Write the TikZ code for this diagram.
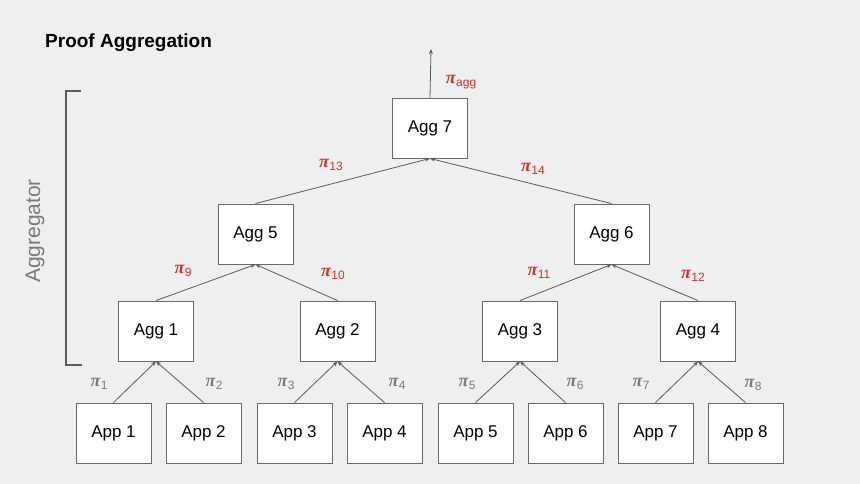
\documentclass[tikz,border=0pt]{standalone}
\usepackage{fontspec}
\setmainfont{Liberation Sans}
\newfontfamily\pifont{Liberation Serif}
\usetikzlibrary{arrows.meta}
\definecolor{bgc}{HTML}{EFEFEF}
\definecolor{edgec}{HTML}{5A5A5A}
\definecolor{boxc}{HTML}{6A6A6A}
\definecolor{redc}{HTML}{D0312D}
\definecolor{greyc}{HTML}{7A7A7A}
\newcommand{\pilab}[1]{{\pifont\bfseries\itshape\fontsize{18}{20}\selectfont π}\kern0.5pt\raisebox{-0.5ex}{\fontsize{12}{14}\selectfont #1}}
\tikzset{
  box/.style={draw=boxc, fill=white, line width=0.9pt, minimum width=75pt, minimum height=60pt, inner sep=0pt, font=\fontsize{17}{20}\selectfont},
  link/.style={draw=edgec, line width=0.8pt, -{Stealth[length=5pt,width=4pt]}},
  redlab/.style={text=redc, inner sep=0pt},
  greylab/.style={text=greyc, inner sep=0pt}
}
\begin{document}
\begin{tikzpicture}[x=1pt,y=-1pt]
\fill[bgc] (0,0) rectangle (860,484);
\useasboundingbox (0,0) rectangle (860,484);
\node[anchor=west, font=\bfseries\fontsize{19}{22}\selectfont, inner sep=0pt] (title) at (45,43) {Proof Aggregation};
% bracket
\draw[edgec, line width=2.4pt] (81,91) -- (66,91) -- (66,365) -- (82,365);
\node[rotate=90, text=greyc, font=\fontsize{21}{24}\selectfont, inner sep=0pt] (aggr) at (35,231) {Aggregator};
% apps
\node[box] (app1) at (113.5,433) {App 1};
\node[box] (app2) at (203.5,433) {App 2};
\node[box] (app3) at (294.5,433) {App 3};
\node[box] (app4) at (384.5,433) {App 4};
\node[box] (app5) at (475.5,433) {App 5};
\node[box] (app6) at (565.5,433) {App 6};
\node[box] (app7) at (655.5,433) {App 7};
\node[box] (app8) at (745.5,433) {App 8};
% aggs
\node[box] (agg1) at (156,331) {Agg 1};
\node[box] (agg2) at (337.5,331) {Agg 2};
\node[box] (agg3) at (520,331) {Agg 3};
\node[box] (agg4) at (698,331) {Agg 4};
\node[box] (agg5) at (255.5,234) {Agg 5};
\node[box] (agg6) at (611.5,234) {Agg 6};
\node[box] (agg7) at (430,128) {Agg 7};
\coordinate (out) at (431,49);
% links
\draw[link] (app1.north) -- (agg1.south);
\draw[link] (app2.north) -- (agg1.south);
\draw[link] (app3.north) -- (agg2.south);
\draw[link] (app4.north) -- (agg2.south);
\draw[link] (app5.north) -- (agg3.south);
\draw[link] (app6.north) -- (agg3.south);
\draw[link] (app7.north) -- (agg4.south);
\draw[link] (app8.north) -- (agg4.south);
\draw[link] (agg1.north) -- (agg5.south);
\draw[link] (agg2.north) -- (agg5.south);
\draw[link] (agg3.north) -- (agg6.south);
\draw[link] (agg4.north) -- (agg6.south);
\draw[link] (agg5.north) -- (agg7.south);
\draw[link] (agg6.north) -- (agg7.south);
\draw[link] (agg7.north) -- (out);
% labels
\node[greylab] (p1) at (99,384) {\pilab{1}};
\node[greylab] (p2) at (214,384) {\pilab{2}};
\node[greylab] (p3) at (286,384) {\pilab{3}};
\node[greylab] (p4) at (397,384) {\pilab{4}};
\node[greylab] (p5) at (467,384) {\pilab{5}};
\node[greylab] (p6) at (575,384) {\pilab{6}};
\node[greylab] (p7) at (641,384) {\pilab{7}};
\node[greylab] (p8) at (753,385) {\pilab{8}};
\node[redlab] (p9) at (183,271) {\pilab{9}};
\node[redlab] (p10) at (333,274) {\pilab{10}};
\node[redlab] (p11) at (539,273) {\pilab{11}};
\node[redlab] (p12) at (693,276) {\pilab{12}};
\node[redlab] (p13) at (331,165) {\pilab{13}};
\node[redlab] (p14) at (533,169) {\pilab{14}};
\node[redlab] (pagg) at (461,82) {\pilab{agg}};
\end{tikzpicture}
\end{document}
